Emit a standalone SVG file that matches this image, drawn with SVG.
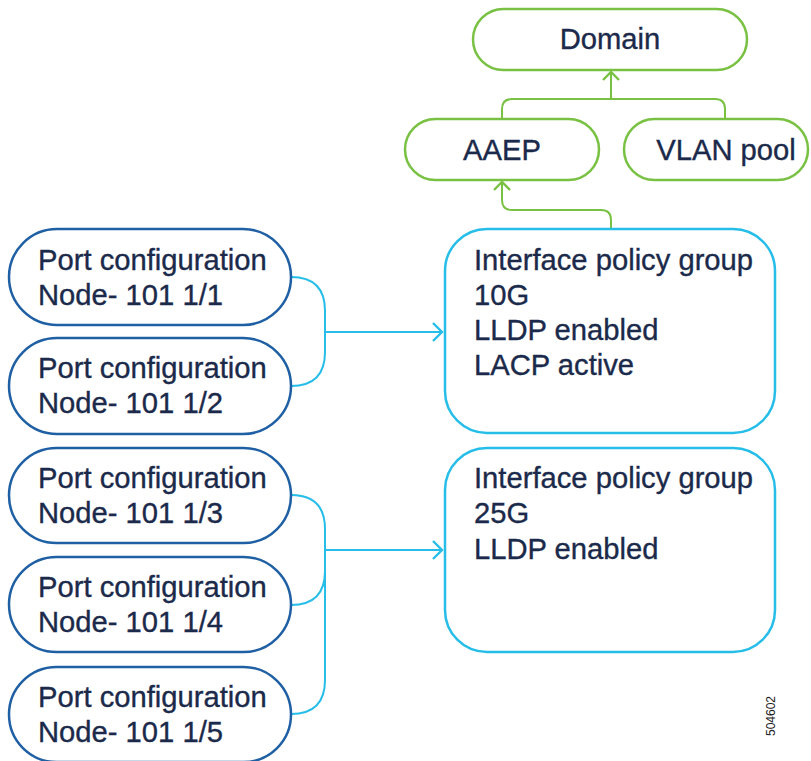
<svg xmlns="http://www.w3.org/2000/svg" width="811" height="761" viewBox="0 0 811 761">
<defs>
<style>
text{font-family:"Liberation Sans",Arial,sans-serif;font-size:29.2px;fill:#1b2a4a;stroke:#1b2a4a;stroke-width:0.35}
.port{fill:#fff;stroke:#1f5fa3;stroke-width:2.5}
.ipg{fill:#fff;stroke:#27bde9;stroke-width:2.5}
.grn{fill:#fff;stroke:#79c143;stroke-width:2.5}
.cb{fill:none;stroke:#27bde9;stroke-width:2}
.cg{fill:none;stroke:#79c143;stroke-width:2}
</style>
<marker id="ab" markerUnits="userSpaceOnUse" markerWidth="20" markerHeight="20" refX="10" refY="10" orient="auto" overflow="visible">
<path d="M1,1 L10,10 L1,19" fill="none" stroke="#27bde9" stroke-width="2.4"/>
</marker>
<marker id="ag" markerUnits="userSpaceOnUse" markerWidth="20" markerHeight="20" refX="10" refY="10" orient="auto" overflow="visible">
<path d="M2,2 L10,10 L2,18" fill="none" stroke="#79c143" stroke-width="2.4"/>
</marker>
</defs>
<rect width="811" height="761" fill="#fff"/>
<g id="connectors">
<path class="cb" d="M291,277 Q325,277 325,311 V352 Q325,386 291,386"/>
<path class="cb" d="M325,332 H442" marker-end="url(#ab)"/>
<path class="cb" d="M291,495 Q325,495 325,529 V680 Q325,714 291,714"/>
<path class="cb" d="M291,605 Q325,605 325,571"/>
<path class="cb" d="M325,550 H442" marker-end="url(#ab)"/>
<path class="cg" d="M611,99 V72" marker-end="url(#ag)"/>
<path class="cg" d="M502,119 V109 Q502,99 512,99 H715 Q725,99 725,109 V119"/>
<path class="cg" d="M611,229 V220 Q611,210 601,210 H512 Q502,210 502,200 V182" marker-end="url(#ag)"/>
</g>
<g id="domain"><rect class="grn" x="473" y="9" width="274" height="61" rx="30.5"/><text x="610" y="49" text-anchor="middle">Domain</text></g>
<g id="aaep"><rect class="grn" x="405" y="119" width="194" height="61" rx="30.5"/><text x="502" y="160" text-anchor="middle">AAEP</text></g>
<g id="vlanpool"><rect class="grn" x="624" y="119" width="184" height="61" rx="30.5"/><text x="726" y="160" text-anchor="middle">VLAN pool</text></g>
<g id="port1"><rect class="port" x="9" y="229" width="282" height="96" rx="48"/><text x="38" y="270">Port configuration</text><text x="38" y="305">Node- 101 1/1</text></g>
<g id="port2"><rect class="port" x="9" y="338" width="282" height="96" rx="48"/><text x="38" y="378">Port configuration</text><text x="38" y="413">Node- 101 1/2</text></g>
<g id="port3"><rect class="port" x="9" y="448" width="282" height="95" rx="47.5"/><text x="38" y="488">Port configuration</text><text x="38" y="523">Node- 101 1/3</text></g>
<g id="port4"><rect class="port" x="9" y="557" width="282" height="95" rx="47.5"/><text x="38" y="597">Port configuration</text><text x="38" y="632">Node- 101 1/4</text></g>
<g id="port5"><rect class="port" x="9" y="667" width="282" height="95" rx="47.5"/><text x="38" y="707">Port configuration</text><text x="38" y="742">Node- 101 1/5</text></g>
<g id="ipg1"><rect class="ipg" x="445" y="229" width="330" height="204" rx="42"/><text x="474" y="270">Interface policy group</text><text x="474" y="305">10G</text><text x="474" y="340">LLDP enabled</text><text x="474" y="375">LACP active</text></g>
<g id="ipg2"><rect class="ipg" x="445" y="448" width="330" height="204" rx="42"/><text x="474" y="488">Interface policy group</text><text x="474" y="523">25G</text><text x="474" y="559">LLDP enabled</text></g>
<text x="0" y="0" transform="translate(775,716) rotate(-90)" text-anchor="middle" style="font-size:12px;fill:#222;stroke:none">504602</text>
</svg>
